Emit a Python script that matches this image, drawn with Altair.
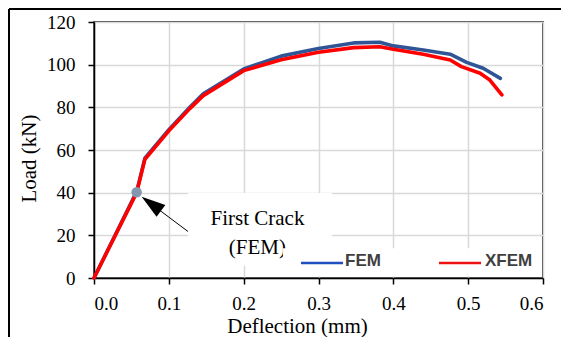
import altair as alt
import pandas as pd

# ---- data ----
fem_x = [0, 0.057, 0.068, 0.1, 0.128, 0.146, 0.2, 0.25, 0.3, 0.347, 0.382, 0.4, 0.44, 0.476, 0.498, 0.52, 0.543]
fem_y = [0, 40.5, 56.2, 69.5, 80.0, 86.3, 98.0, 104.0, 107.6, 110.2, 110.5, 108.8, 106.9, 104.9, 101.1, 98.3, 93.6]

xfem_x = [0, 0.057, 0.068, 0.1, 0.128, 0.146, 0.2, 0.25, 0.3, 0.347, 0.382, 0.4, 0.44, 0.476, 0.491, 0.516, 0.529, 0.545]
xfem_y = [0, 40.0, 55.6, 69.0, 79.4, 85.5, 97.2, 102.3, 105.8, 108.0, 108.4, 107.2, 104.9, 102.2, 99.1, 96.0, 92.8, 85.8]

crack_x = [0.057]
crack_y = [40.2]

x_ticks = [0, 0.1, 0.2, 0.3, 0.4, 0.5, 0.6]
y_ticks = [0, 20, 40, 60, 80, 100, 120]

series = ["FEM", "XFEM"]
colors = ["#2f5597", "#ff0000"]

# annotation (data coordinates)
ann_box = pd.DataFrame({"x": [0.1256], "x2": [0.318], "y": [5.9], "y2": [39.8]})
ann_text = pd.DataFrame({"x": [0.2184, 0.2184], "y": [24.8, 11.3], "t": ["First Crack", "(FEM)"]})
arrow_line = pd.DataFrame({"x": [0.083], "y": [33.0], "x2": [0.1256], "y2": [21.8]})
arrow_head = pd.DataFrame({"x": [0.0766], "y": [34.8]})
leg_box = pd.DataFrame({"x": [0.2526], "x2": [0.5933], "y": [0.8], "y2": [14.0]})
leg_lines = pd.DataFrame({"x": [0.2766, 0.4610], "x2": [0.3328, 0.5172], "y": [7.0, 7.0], "s": series})
leg_text = pd.DataFrame({"x": [0.3354, 0.5225], "y": [8.0, 8.0], "t": series})

xscale = alt.Scale(domain=[0, 0.6], nice=False)
yscale = alt.Scale(domain=[0, 120], nice=False)
cscale = alt.Scale(domain=series, range=colors)

xaxis = alt.Axis(values=x_ticks, format=".1f", title="Deflection (mm)",
                 titleX=203, titleY=54, titleBaseline="alphabetic", titleAnchor="start",
                 titleAlign="center")
yaxis = alt.Axis(values=y_ticks, format="d", title="Load (kN)",
                 titleX=-59, titleY=136, titleBaseline="alphabetic", titleAngle=270,
                 titleAlign="center")


def X(f="x"):
    return alt.X(f"{f}:Q", scale=xscale, axis=xaxis)


def Y(f="y"):
    return alt.Y(f"{f}:Q", scale=yscale, axis=yaxis)


fem_df = pd.DataFrame({"x": fem_x, "y": fem_y, "s": "FEM"})
xfem_df = pd.DataFrame({"x": xfem_x, "y": xfem_y, "s": "XFEM"})
crack_df = pd.DataFrame({"x": crack_x, "y": crack_y})

box = alt.Chart(ann_box).mark_rect(color="white").encode(x=X(), x2="x2:Q", y=Y(), y2="y2:Q")

fem = alt.Chart(fem_df).mark_line(strokeWidth=3.6, strokeJoin="round", strokeCap="round").encode(
    x=X(), y=Y(), color=alt.Color("s:N", scale=cscale, legend=None), order=alt.Order("x:Q"))
xfem = alt.Chart(xfem_df).mark_line(strokeWidth=3.6, strokeJoin="round", strokeCap="round").encode(
    x=X(), y=Y(), color=alt.Color("s:N", scale=cscale, legend=None), order=alt.Order("x:Q"))

pt = alt.Chart(crack_df).mark_point(filled=True, size=110, color="#8497b0", opacity=1).encode(x=X(), y=Y())

arr = alt.Chart(arrow_line).mark_rule(color="black", strokeWidth=1).encode(x=X(), y=Y(), x2="x2:Q", y2="y2:Q")
head = alt.Chart(arrow_head).mark_point(
    shape="M0,-1L0.62,1L-0.62,1Z", size=576, angle=306.4, filled=True, color="black", opacity=1
).encode(x=X(), y=Y())

atext = alt.Chart(ann_text).mark_text(font="Liberation Serif", fontSize=21, color="black",
                                      align="center", baseline="alphabetic").encode(
    x=X(), y=Y(), text="t:N")

lbox = alt.Chart(leg_box).mark_rect(color="white").encode(x=X(), x2="x2:Q", y=Y(), y2="y2:Q")
llines = alt.Chart(leg_lines).mark_rule(strokeWidth=2.5).encode(
    x=X(), x2="x2:Q", y=Y(), color=alt.Color("s:N", scale=alt.Scale(domain=series, range=["#1f4fbf", "#ee1111"]), legend=None))
ltext = alt.Chart(leg_text).mark_text(font="Liberation Sans", fontSize=17, fontWeight="bold",
                                      color="#404040", align="left", baseline="middle").encode(
    x=X(), y=Y(), text="t:N")

frame_l = alt.Chart(ann_box).mark_rule(color="black", strokeWidth=2).encode(
    x=alt.value(-85), y=alt.value(-13), y2=alt.value(400))
frame_t = alt.Chart(ann_box).mark_rule(color="black", strokeWidth=2).encode(
    x=alt.value(-85), x2=alt.value(500), y=alt.value(-13))

chart = alt.layer(box, fem, xfem, pt, arr, head, atext, lbox, llines, ltext, frame_l, frame_t).resolve_scale(
    color="independent"
).properties(
    width=449, height=256,
    autosize=alt.AutoSizeParams(type="none"),
    padding={"left": 86, "top": 14, "right": 18, "bottom": 59},
).configure_view(
    stroke="black", strokeWidth=1.5
).configure_axis(
    domainColor="black", domainWidth=1.5,
    tickColor="black", tickWidth=1.5, tickSize=6,
    gridColor="#d9d9d9", gridWidth=1.5,
    labelFont="Liberation Serif", labelFontSize=19, labelColor="black",
    titleFont="Liberation Serif", titleFontSize=21, titleFontWeight="normal", titleColor="black",
).configure_axisX(labelPadding=10).configure_axisY(labelPadding=13)

chart.save("out.html", embed_options={"renderer": "svg", "actions": False})
